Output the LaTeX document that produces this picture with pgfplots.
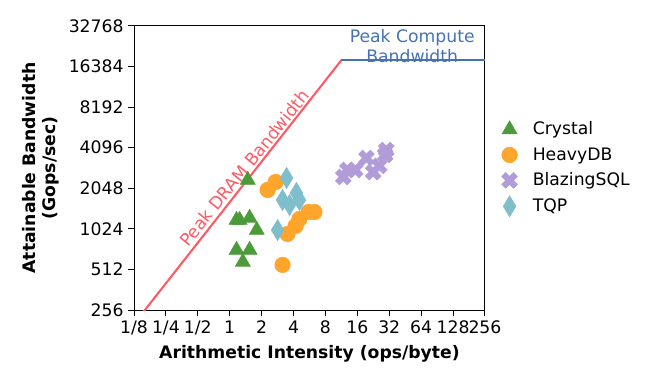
\documentclass[border=0pt]{standalone}
\usepackage{fontspec}
\setmainfont{DejaVu Sans}
\usepackage{pgfplots}
\pgfplotsset{compat=1.18}
\definecolor{cgreen}{RGB}{76,155,58}
\definecolor{corange}{RGB}{255,165,44}
\definecolor{cpurple}{RGB}{177,156,217}
\definecolor{cteal}{RGB}{127,190,203}
\definecolor{cred}{RGB}{255,90,100}
\definecolor{cblue}{RGB}{70,114,180}
\pgfdeclareplotmark{fatx}{%
  \pgftransformrotate{45}%
  \pgfpathmoveto{\pgfpoint{-0.34\pgfplotmarksize}{\pgfplotmarksize}}%
  \pgfpathlineto{\pgfpoint{0.34\pgfplotmarksize}{\pgfplotmarksize}}%
  \pgfpathlineto{\pgfpoint{0.34\pgfplotmarksize}{0.34\pgfplotmarksize}}%
  \pgfpathlineto{\pgfpoint{\pgfplotmarksize}{0.34\pgfplotmarksize}}%
  \pgfpathlineto{\pgfpoint{\pgfplotmarksize}{-0.34\pgfplotmarksize}}%
  \pgfpathlineto{\pgfpoint{0.34\pgfplotmarksize}{-0.34\pgfplotmarksize}}%
  \pgfpathlineto{\pgfpoint{0.34\pgfplotmarksize}{-\pgfplotmarksize}}%
  \pgfpathlineto{\pgfpoint{-0.34\pgfplotmarksize}{-\pgfplotmarksize}}%
  \pgfpathlineto{\pgfpoint{-0.34\pgfplotmarksize}{-0.34\pgfplotmarksize}}%
  \pgfpathlineto{\pgfpoint{-\pgfplotmarksize}{-0.34\pgfplotmarksize}}%
  \pgfpathlineto{\pgfpoint{-\pgfplotmarksize}{0.34\pgfplotmarksize}}%
  \pgfpathlineto{\pgfpoint{-0.34\pgfplotmarksize}{0.34\pgfplotmarksize}}%
  \pgfpathclose
  \pgfusepathqfillstroke
}
\pgfplotstableread{
x y
1.48 2360
1.16 1190
1.24 1190
1.54 1234
1.80 1003
1.16 714
1.54 714
1.33 582
}\crystal
\pgfplotstableread{
x y
2.28 1990
2.71 2280
3.51 938
4.18 1075
4.55 1212
5.54 1365
6.30 1365
3.15 553
}\heavydb
\pgfplotstableread{
x y
11.8 2485
12.9 2800
15.3 2800
19.5 3435
22.6 2700
25.8 3000
29.3 3620
30.0 3940
}\blazing
\pgfplotstableread{
x y
3.44 2440
3.15 1676
4.26 1890
3.67 1540
4.55 1676
2.83 1003
}\tqp
\begin{document}
\begin{tikzpicture}[font=\fontsize{12.4}{14.5}\selectfont]
\begin{axis}[
  scale only axis,
  width=252.7pt, height=204.5pt,
  xmode=log, ymode=log, log basis x=2, log basis y=2,
  xmin=0.125, xmax=256, ymin=256, ymax=32768,
  xtick={0.125,0.25,0.5,1,2,4,8,16,32,64,128,256},
  xticklabels={1/8,1/4,1/2,1,2,4,8,16,32,64,128,256},
  ytick={256,512,1024,2048,4096,8192,16384,32768},
  yticklabels={256,512,1024,2048,4096,8192,16384,32768},
  xminorticks=false, yminorticks=false,
  tick align=outside, major tick length=4pt,
  xtick pos=bottom, ytick pos=left,
  tick style={black, line width=0.7pt},
  axis line style={line width=0.7pt},
  xlabel={\bfseries Arithmetic Intensity (ops/byte)},
  ylabel={\bfseries Attainable Bandwidth\\\bfseries (Gops/sec)},
  ylabel style={align=center},
  xlabel style={yshift=-1pt},
  legend style={at={(1.035,0.5)}, anchor=west, draw=none, fill=none,
    row sep=3.6pt, font=\fontsize{12.4}{14.5}\selectfont,
    /tikz/every odd column/.append style={column sep=9pt}},
  legend cell align=left,
  clip=true,
]
\addplot[cred, line width=1.5pt, forget plot] coordinates {(0.1,161.5) (11.33,18300)};
\addplot[cblue, line width=1.5pt, forget plot] coordinates {(11.33,18300) (256,18300)};
\addplot[only marks, mark=triangle*, mark size=6.2pt, mark options={draw=cgreen, fill=cgreen}] table {\crystal};
\addlegendentry{Crystal}
\addplot[only marks, mark=*, mark size=5.6pt, mark options={draw=corange, fill=corange}] table {\heavydb};
\addlegendentry{HeavyDB}
\addplot[only marks, mark=fatx, mark size=6pt, mark options={draw=cpurple, fill=cpurple}] table {\blazing};
\addlegendentry{BlazingSQL}
\addplot[only marks, mark=diamond*, mark size=7.6pt, mark options={draw=cteal, fill=cteal, xscale=0.8}] table {\tqp};
\addlegendentry{TQP}
\node[rotate=51, text=cred] at (axis cs:1.38,2900) {Peak DRAM Bandwidth};
\node[align=center, text=cblue] at (axis cs:52.7,23300) {Peak Compute\\Bandwidth};
\end{axis}
\pgfresetboundingbox
\path (current axis.south west) ++(-96.48pt,-53.28pt) rectangle ++(478.8pt,276.48pt);
\end{tikzpicture}
\end{document}
